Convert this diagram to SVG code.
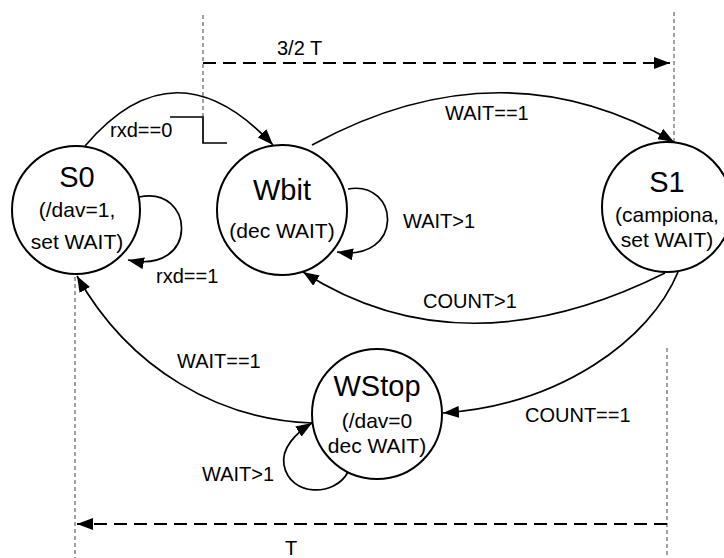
<svg xmlns="http://www.w3.org/2000/svg" width="724" height="558" viewBox="0 0 724 558">
<style>
  .node { fill: #fff; stroke: #000; stroke-width: 2; }
  .title { font-family: "Liberation Sans", Arial, sans-serif; font-size: 29px; text-anchor: middle; fill: #000; }
  .sub { font-family: "Liberation Sans", Arial, sans-serif; font-size: 21px; text-anchor: middle; fill: #000; }
  .lbl { font-family: "Liberation Sans", Arial, sans-serif; font-size: 20px; fill: #000; }
  .edge { fill: none; stroke: #000; stroke-width: 1.7; marker-end: url(#arr); }
  .guide { fill: none; stroke: #444; stroke-width: 1; stroke-dasharray: 4 3; }
  .dim { fill: none; stroke: #000; stroke-width: 2; stroke-dasharray: 13 7; }
  .wave { fill: none; stroke: #000; stroke-width: 1.7; }
</style>
<defs>
  <marker id="arr" viewBox="0 0 16 12" refX="16" refY="6" markerWidth="16" markerHeight="12" markerUnits="userSpaceOnUse" orient="auto">
    <path d="M0,0 L16,6 L0,12 z" fill="#000"/>
  </marker>
  <marker id="arrs" viewBox="0 0 16 12" refX="1" refY="6" markerWidth="16" markerHeight="12" markerUnits="userSpaceOnUse" orient="auto-start-reverse">
    <path d="M0,0 L16,6 L0,12 z" fill="#000"/>
  </marker>
</defs>
<rect width="724" height="558" fill="#fff"/>

<g id="timing">
  <line class="guide" x1="203" y1="15" x2="203" y2="117"/>
  <line class="guide" x1="674" y1="12" x2="674" y2="142"/>
  <line class="guide" x1="75" y1="277" x2="75" y2="558"/>
  <line class="guide" x1="667" y1="348" x2="667" y2="558"/>
  <path class="dim" d="M203,63 L670,63" marker-end="url(#arr)"/>
  <path class="dim" d="M667,524 L77,524" marker-end="url(#arr)"/>
  <path class="wave" d="M170,117 L203,117 L203,143 L227,143"/>
  <text class="lbl" x="277" y="55">3/2 T</text>
  <text class="lbl" x="285" y="555">T</text>
</g>

<g id="connectors">
  <path class="edge" d="M85,146 Q175,40 273,145"/>
  <path class="edge" d="M312,145 Q501,42 674,142"/>
  <path class="edge" d="M665,273 Q462,374 303,272"/>
  <path class="edge" d="M678,272 C650,340 560,405 443,413"/>
  <path class="edge" d="M312,423 C220,420 130,370 77,276"/>
  <path class="edge" d="M139,197 C195,185 200,275 128,260"/>
  <path class="edge" d="M348,189 C400,180 405,262 337,252"/>
  <path class="edge" d="M348,472 C335,497 290,497 284,465 C281,448 296,433 312,423"/>
  <text class="lbl" x="110" y="137">rxd==0</text>
  <text class="lbl" x="445" y="120">WAIT==1</text>
  <text class="lbl" x="403" y="228">WAIT&gt;1</text>
  <text class="lbl" x="156" y="283">rxd==1</text>
  <text class="lbl" x="423" y="308">COUNT&gt;1</text>
  <text class="lbl" x="525" y="422">COUNT==1</text>
  <text class="lbl" x="177" y="368">WAIT==1</text>
  <text class="lbl" x="202" y="481">WAIT&gt;1</text>
</g>

<g id="S0">
  <circle class="node" cx="76" cy="210" r="64"/>
  <text class="title" x="77" y="187">S0</text>
  <text class="sub" x="77" y="217">(/dav=1,</text>
  <text class="sub" x="77" y="249">set WAIT)</text>
</g>

<g id="Wbit">
  <circle class="node" cx="282" cy="210" r="65"/>
  <text class="title" x="282" y="200">Wbit</text>
  <text class="sub" x="282" y="238">(dec WAIT)</text>
</g>

<g id="S1">
  <circle class="node" cx="667" cy="207" r="65"/>
  <text class="title" x="667" y="192">S1</text>
  <text class="sub" x="667" y="222">(campiona,</text>
  <text class="sub" x="667" y="247">set WAIT)</text>
</g>

<g id="WStop">
  <circle class="node" cx="377" cy="414" r="65"/>
  <text class="title" x="377" y="396">WStop</text>
  <text class="sub" x="377" y="428">(/dav=0</text>
  <text class="sub" x="377" y="453">dec WAIT)</text>
</g>
</svg>
